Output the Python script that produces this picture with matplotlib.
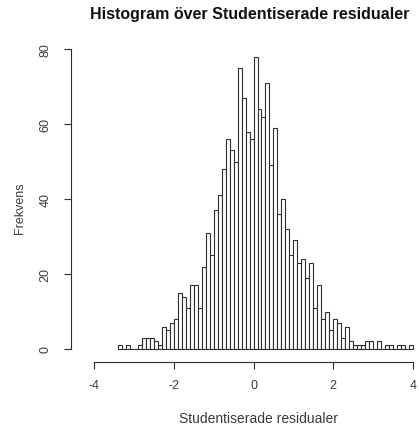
import numpy as np
import matplotlib
matplotlib.use("Agg")
import matplotlib.pyplot as plt

plt.rcParams['font.family'] = ['Liberation Sans', 'DejaVu Sans']

# histogram counts, bins of width 0.1 starting at -3.4
bin_start = -3.4
bin_width = 0.1
counts = [1, 0, 1, 0, 0, 1, 3, 3, 3, 2, 1, 6, 5, 7, 8,
          15, 14, 11, 17, 17, 11, 22, 31, 25, 37, 41, 48, 56, 53, 50,
          75, 67, 58, 56, 78, 64, 62, 71, 49, 59, 36, 40, 32, 25, 29,
          23, 24, 19, 23, 11, 17, 8, 10, 5, 8, 7, 3, 6, 2, 1,
          1, 1, 2, 2, 0, 2, 0, 1, 1, 0, 1, 1, 0, 1]
x_ticks = [-4, -2, 0, 2, 4]
y_ticks = [0, 20, 40, 60, 80]

title = "Histogram över Studentiserade residualer"
x_label = "Studentiserade residualer"
y_label = "Frekvens"

ink = '#2e2e2e'

W, H = 419, 427
fig = plt.figure(figsize=(W / 100, H / 100), dpi=100)
ax = fig.add_axes([71 / W, 64 / H, 348 / W, 323 / H])

lefts = bin_start + bin_width * np.arange(len(counts))
ax.bar(lefts, counts, width=bin_width, align='edge',
       facecolor='white', edgecolor=ink, linewidth=0.8)

ax.set_xlim(-4.577, 4.15)
ax.set_ylim(-3.47, 82.7)

for side in ('top', 'right'):
    ax.spines[side].set_visible(False)
for side in ('left', 'bottom'):
    ax.spines[side].set_color(ink)
    ax.spines[side].set_linewidth(0.8)
ax.spines['left'].set_bounds(0, 80)
ax.spines['bottom'].set_bounds(-4, 4)

ax.set_xticks(x_ticks)
ax.set_xticklabels([str(t) for t in x_ticks])
ax.set_yticks(y_ticks)
ax.set_yticklabels([str(t) for t in y_ticks], rotation=90, va='center')
ax.tick_params(direction='out', length=5, width=0.8, color=ink,
               labelcolor='#3a3a3a', labelsize=9)
ax.tick_params(axis='x', pad=7)
ax.tick_params(axis='y', pad=9)

fig.text(250 / W, 1 - 15 / H, title, ha='center', va='center',
         fontsize=11.5, fontweight='bold', color='#111111')
fig.text(258 / W, 1 - 419 / H, x_label, ha='center', va='center',
         fontsize=10, color='#3a3a3a')
fig.text(20 / W, 1 - 208 / H, y_label, ha='center', va='center',
         rotation=90, fontsize=9, color='#3a3a3a')

fig.savefig("out.png", dpi=100)
